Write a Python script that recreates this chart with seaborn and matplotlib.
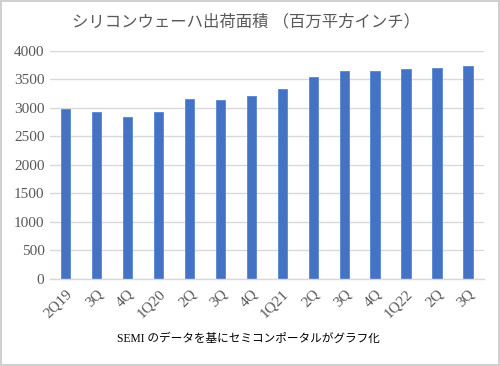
import matplotlib
matplotlib.use("Agg")
import matplotlib.pyplot as plt
import seaborn as sns
import pandas as pd

categories = ["2Q19", "3Q", "4Q", "1Q20", "2Q", "3Q", "4Q", "1Q21", "2Q", "3Q", "4Q", "1Q22", "2Q", "3Q"]
values = [2983, 2932, 2844, 2920, 3152, 3135, 3200, 3337, 3534, 3649, 3642, 3679, 3704, 3741]
yticks = [0, 500, 1000, 1500, 2000, 2500, 3000, 3500, 4000]
title = "シリコンウェーハ出荷面積 （百万平方インチ）"
footer = "SEMI のデータを基にセミコンポータルがグラフ化"

sns.set_theme(style="white")
plt.rcParams['font.family'] = ['Liberation Serif', 'Noto Sans CJK JP', 'DejaVu Sans']

df = pd.DataFrame({"idx": list(range(len(categories))), "v": values})

fig = plt.figure(figsize=(5, 3.66), dpi=100, edgecolor='#d0d0d0', linewidth=1.5)
ax = fig.add_axes([0.1, 0.238, 0.867, 0.623])
sns.barplot(data=df, x="idx", y="v", color="#4472C4", width=0.3, ax=ax,
            saturation=1, edgecolor="#5a86d0", linewidth=0.6)
ax.set_xlim(-0.5, len(categories) - 0.5)
ax.set_ylim(0, 4000)
ax.set_yticks(yticks)
ax.set_yticklabels([str(t) for t in yticks], fontsize=11, color='#595959')
ax.set_xticks(range(len(categories)))
ax.set_xticklabels(categories, rotation=45, ha='right', rotation_mode='anchor',
                   fontsize=11, color='#595959')
ax.tick_params(axis='both', length=0, pad=4)
ax.tick_params(axis='x', pad=6)
ax.set_xlabel("")
ax.set_ylabel("")
ax.grid(axis='y', color='#d9d9d9', linewidth=1)
ax.set_axisbelow(True)
for s in ['top', 'right', 'left']:
    ax.spines[s].set_visible(False)
ax.spines['bottom'].set_color('#d9d9d9')
ax.spines['bottom'].set_linewidth(1)

fig.text(0.493, 0.94, title, ha='center', va='center', fontsize=11.8, color='#595959')
fig.text(0.496, 0.074, footer, ha='center', va='center', fontsize=8.4, color='#000000')

fig.savefig("out.png", dpi=100)
